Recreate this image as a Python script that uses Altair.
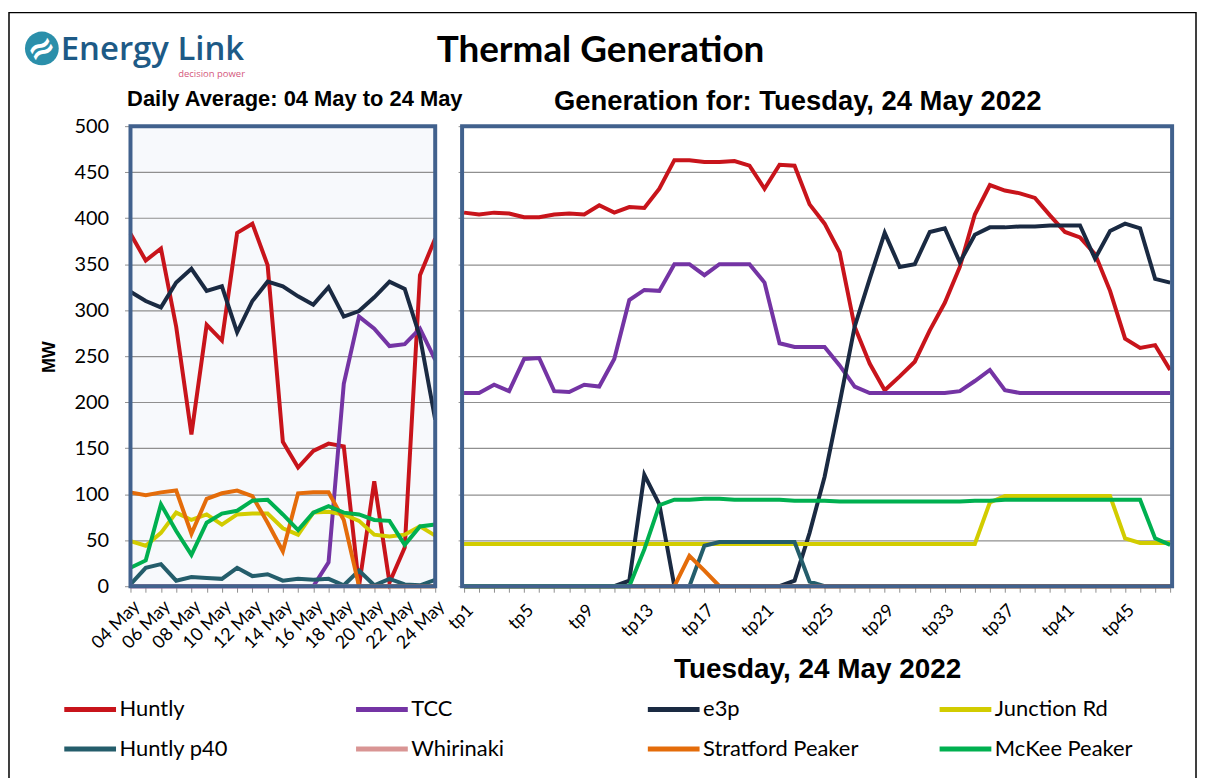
import json
import altair as alt
import pandas as pd

# ---------------- data ----------------
series = ["Huntly", "TCC", "e3p", "Junction Rd", "Huntly p40", "Whirinaki",
          "Stratford Peaker", "McKee Peaker"]
colors = ["#C8141B", "#7434A4", "#1A2A42", "#D2CC00", "#245D6B", "#D99594",
          "#E46C0A", "#00B050"]

days = ["04 May", "05 May", "06 May", "07 May", "08 May", "09 May", "10 May",
        "11 May", "12 May", "13 May", "14 May", "15 May", "16 May", "17 May",
        "18 May", "19 May", "20 May", "21 May", "22 May", "23 May", "24 May"]
day_labels = ["04 May", "06 May", "08 May", "10 May", "12 May", "14 May",
              "16 May", "18 May", "20 May", "22 May", "24 May"]

huntly_avg = [383, 354, 367, 282, 165, 284, 267, 384, 394, 349, 157, 129, 147,
              155, 152, 0, 114, 4, 42, 338, 378]
tcc_avg = [0, 0, 0, 0, 0, 0, 0, 0, 0, 0, 0, 0, 0, 26, 220, 293, 280, 261, 263,
           280, 246]
e3p_avg = [320, 310, 303, 330, 345, 321, 326, 276, 310, 331, 326, 315, 306,
           325, 293, 299, 314, 331, 323, 271, 181]
junction_avg = [49, 44, 58, 80, 72, 78, 67, 78, 79, 79, 63, 56, 80, 81, 78, 71,
                56, 54, 56, 65, 55]
p40_avg = [2, 20, 24, 6, 10, 9, 8, 20, 11, 13, 6, 8, 7, 8, 1, 17, 1, 8, 2, 1, 7]
whirinaki_avg = [0] * 21
stratford_avg = [102, 99, 102, 104, 57, 95, 101, 104, 98, 69, 38, 101, 102, 102,
                 72, 0, 0, 0, 0, 0, 0]
mckee_avg = [20, 28, 89, 60, 34, 69, 79, 82, 93, 94, 78, 61, 80, 87, 80, 78, 72,
             71, 45, 65, 67]

tps = ["tp%d" % i for i in range(1, 49)]
tp_labels = ["tp1", "tp5", "tp9", "tp13", "tp17", "tp21", "tp25", "tp29",
             "tp33", "tp37", "tp41", "tp45"]

huntly_tp = [406, 404, 406, 405, 401, 401, 404, 405, 404, 414,
             406, 412, 411, 432, 463, 463, 461, 461, 462, 457,
             432, 458, 457, 415, 394, 363, 282, 242, 213, 228,
             244, 278, 308, 347, 404, 436, 430, 427, 422, 403,
             385, 379, 361, 321, 269, 259, 262, 235]
tcc_tp = [210, 210, 219, 212, 247, 248, 212, 211, 219, 217,
          247, 311, 322, 321, 350, 350, 338, 350, 350, 350,
          330, 264, 260, 260, 260, 240, 217, 210, 210, 210,
          210, 210, 210, 212, 223, 235, 213, 210, 210, 210,
          210, 210, 210, 210, 210, 210, 210, 210]
e3p_tp = [0, 0, 0, 0, 0, 0, 0, 0, 0, 0,
          0, 6, 121, 89, 0, 0, 0, 0, 0, 0,
          0, 0, 6, 58, 119, 199, 282, 334, 384, 347,
          350, 385, 389, 352, 382, 390, 390, 391, 391, 392,
          392, 392, 356, 386, 394, 389, 334, 330]
junction_tp = [46] * 35 + [91] + [98] * 8 + [52, 47, 47, 47]
p40_tp = [0] * 16 + [44, 48, 48, 48, 48, 48, 48, 5] + [0] * 24
whirinaki_tp = [0] * 48
stratford_tp = [0] * 15 + [33, 17] + [0] * 31
mckee_tp = [0] * 12 + [40, 88, 94, 94, 95, 95, 94, 94, 94, 94, 93, 93, 93, 92,
                       92, 92, 92, 92, 92, 92, 92, 92, 93, 93, 94, 94, 94, 94,
                       94, 94, 94, 94, 94, 94, 52, 45]

avg_values = [huntly_avg, tcc_avg, e3p_avg, junction_avg, p40_avg,
              whirinaki_avg, stratford_avg, mckee_avg]
tp_values = [huntly_tp, tcc_tp, e3p_tp, junction_tp, p40_tp, whirinaki_tp,
             stratford_tp, mckee_tp]

left_df = pd.DataFrame([
    {"series": s, "day": d, "mw": v}
    for s, vals in zip(series, avg_values) for d, v in zip(days, vals)
])
right_df = pd.DataFrame([
    {"series": s, "tp": t, "mw": v}
    for s, vals in zip(series, tp_values) for t, v in zip(tps, vals)
])
one = pd.DataFrame({"k": [0]})

# ---------------- styling ----------------
LW, LH = 306, 462
RW, RH = 713, 462
BORDER = "#41618D"
GRID = "#8F8F8F"
y_ticks = list(range(0, 501, 50))

legend = alt.Legend(
    title=None, orient="none", legendX=-69, legendY=557, columns=4,
    direction="horizontal", gridAlign="all", columnPadding=70, rowPadding=-12,
    symbolType="stroke", symbolSize=2700, symbolStrokeWidth=5,
    labelFont="Lato", labelFontSize=22, labelColor="#000000", labelOffset=1,
    labelLimit=300,
)
color = alt.Color("series:N", scale=alt.Scale(domain=series, range=colors),
                  legend=legend)

x_left = alt.X(
    "day:N", sort=days, title=None,
    scale=alt.Scale(type="point", padding=0),
    axis=alt.Axis(
        labelAngle=-45, labelFont="Lato", labelFontSize=18, labelColor="#000",
        tickSize=6, tickColor=GRID, grid=False, domain=False, labelPadding=5,
        labelExpr="indexof(%s, datum.value) >= 0 ? datum.value : ''"
        % json.dumps(day_labels),
    ),
)
y_left = alt.Y(
    "mw:Q", title=None, scale=alt.Scale(domain=[0, 500], nice=False),
    axis=alt.Axis(values=y_ticks, labelFont="Lato", labelFontSize=20,
                  labelColor="#000", tickSize=6, tickColor=GRID, grid=True,
                  gridColor=GRID, gridWidth=1.2, domain=False, labelPadding=16),
)
x_right = alt.X(
    "tp:N", sort=tps, title=None,
    scale=alt.Scale(type="point", padding=0.13),
    axis=alt.Axis(
        labelAngle=-45, labelFont="Lato", labelFontSize=18, labelColor="#000",
        tickSize=6, tickColor=GRID, grid=False, domain=False, labelPadding=9,
        labelExpr="indexof(%s, datum.value) >= 0 ? datum.value : ''"
        % json.dumps(tp_labels),
    ),
)
y_right = alt.Y(
    "mw:Q", title=None, scale=alt.Scale(domain=[0, 500], nice=False),
    axis=alt.Axis(values=y_ticks, labels=False, tickSize=4, tickColor=GRID,
                  grid=True, gridColor=GRID, gridWidth=1.2, domain=False),
)


def lines(df, x, y):
    out = []
    for s in series:
        out.append(
            alt.Chart(df).transform_filter(alt.datum.series == s)
            .mark_line(strokeWidth=4, strokeJoin="miter")
            .encode(x=x, y=y, color=color)
        )
    return out


def frame(w, h):
    return alt.Chart(one).mark_rect(
        fill="transparent", stroke=BORDER, strokeWidth=4
    ).encode(x=alt.value(0), x2=alt.value(w), y=alt.value(0), y2=alt.value(h))


def text(t, x, y, **kw):
    return alt.Chart(one).mark_text(text=t, **kw).encode(
        x=alt.value(x), y=alt.value(y))


# header, titles and outer border drawn in the left panel's frame
outer = alt.Chart(one).mark_rect(
    fill="transparent", stroke="#000000", strokeWidth=1.5
).encode(x=alt.value(-122), x2=alt.value(1070),
         y=alt.value(-114), y2=alt.value(665))

logo_circle = alt.Chart(one).mark_point(
    shape="circle", filled=True, color="#2B8FAA", size=1150, opacity=1
).encode(x=alt.value(-89), y=alt.value(-78))
logo_waves = text("≈", -89, -77, font="DejaVu Sans", fontSize=34,
                  fontWeight="bold", color="#FFFFFF", angle=330,
                  align="center", baseline="middle")
logo_name = text("Energy Link", -70, -66, font="Open Sans", fontSize=33,
                 fontWeight=600, color="#1D5A86", align="left",
                 baseline="alphabetic")
logo_tag = text("decision power", 115, -49, font="Open Sans", fontSize=9.5,
                color="#D4577C", align="right", baseline="alphabetic")
main_title = text("Thermal Generation", 472, -75, font="Lato", fontSize=37,
                  fontWeight="bold", color="#000", align="center",
                  baseline="middle")
left_sub = text("Daily Average: 04 May to 24 May", 165, -27,
                font="Liberation Sans", fontSize=22, fontWeight="bold",
                color="#000", align="center", baseline="middle")
right_sub = text("Generation for: Tuesday, 24 May 2022", 670, -24,
                 font="Liberation Sans", fontSize=27.5, fontWeight="bold",
                 color="#000", align="center", baseline="middle")
mw_title = text("MW", -81, 232, font="Liberation Sans", fontSize=18,
                fontWeight="bold", color="#000", align="center",
                baseline="middle", angle=270)
x_title = text("Tuesday, 24 May 2022", 690, 546, font="Liberation Sans",
               fontSize=28, fontWeight="bold", color="#000", align="center",
               baseline="middle")

left = alt.layer(
    outer, *lines(left_df, x_left, y_left), frame(LW, LH),
    logo_circle, logo_waves, logo_name, logo_tag, main_title, left_sub,
    right_sub, mw_title, x_title,
).properties(width=LW, height=LH,
             view=alt.ViewBackground(fill="#F7F9FC", stroke=None))

right = alt.layer(
    *lines(right_df, x_right, y_right), frame(RW, RH),
).properties(width=RW, height=RH,
             view=alt.ViewBackground(fill="#FFFFFF", stroke=None))

chart = alt.hconcat(left, right, spacing=27, bounds="flush").resolve_scale(
    x="independent", y="independent", color="shared"
).resolve_legend(color="shared").properties(
    padding={"left": 0, "top": 2, "right": 0, "bottom": 0},
    background="#FFFFFF",
)

chart.save("out.html", embed_options={"renderer": "svg", "actions": False})
